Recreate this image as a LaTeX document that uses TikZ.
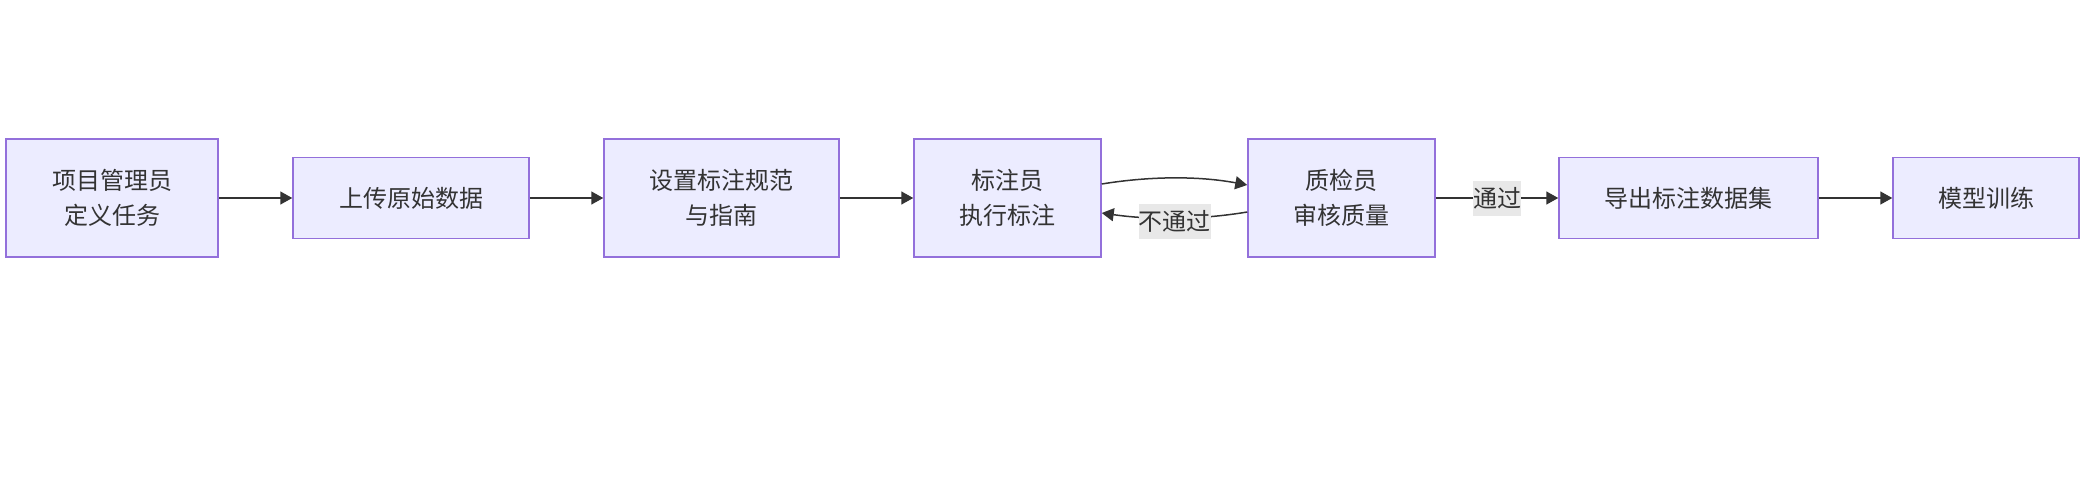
\documentclass[tikz,border=0pt]{standalone}
\usepackage{fontspec}
\setmainfont{Noto Sans CJK SC}
\usetikzlibrary{arrows.meta}
\definecolor{boxfill}{HTML}{ECECFF}
\definecolor{boxline}{HTML}{9370DB}
\definecolor{ink}{HTML}{333333}
\definecolor{lblbg}{HTML}{E8E8E8}
\tikzset{
  procbox/.style={draw=boxline, fill=boxfill, line width=0.75pt, inner sep=0pt,
    text=ink, align=center, font=\fontsize{12pt}{17.5pt}\selectfont},
  tall/.style={minimum height=59pt},
  short/.style={minimum height=40.5pt},
  flow/.style={draw=ink, line width=0.75pt, -{Triangle[length=6pt,width=6.5pt]}},
  lbl/.style={fill=lblbg, text=ink, inner xsep=0pt, inner ysep=0pt, minimum height=17.5pt,
    font=\fontsize{12pt}{14pt}\selectfont}
}
\begin{document}
\begin{tikzpicture}[x=0.5pt,y=-0.5pt]
\useasboundingbox (0,0) rectangle (2087,487);
\node[procbox,tall,minimum width=106pt] (b1) at (112,198) {项目管理员\\定义任务};
\node[procbox,short,minimum width=118pt] (b2) at (411,198) {上传原始数据};
\node[procbox,tall,minimum width=117.5pt] (b3) at (721.5,198) {设置标注规范\\与指南};
\node[procbox,tall,minimum width=93.5pt] (b4) at (1007.5,198) {标注员\\执行标注};
\node[procbox,tall,minimum width=93.5pt] (b5) at (1341.5,198) {质检员\\审核质量};
\node[procbox,short,minimum width=129.5pt] (b6) at (1688.5,198) {导出标注数据集};
\node[procbox,short,minimum width=93pt] (b7) at (1986,198) {模型训练};

\draw[flow] (b1.east) -- (b2.west);
\draw[flow] (b2.east) -- (b3.west);
\draw[flow] (b3.east) -- (b4.west);
\draw[flow] ([yshift=7pt]b4.east) .. controls +(49,-8) and +(-48,-9) .. ([yshift=6.5pt]b5.west);
\draw[flow] ([yshift=-7pt]b5.west) .. controls +(-48,8) and +(49,7) .. ([yshift=-7.5pt]b4.east)
  node[lbl, pos=0.5, yshift=-1.5pt] (l1) {不通过};
\draw[flow] (b5.east) -- node[lbl] (l2) {通过} (b6.west);
\draw[flow] (b6.east) -- (b7.west);
\end{tikzpicture}
\end{document}
